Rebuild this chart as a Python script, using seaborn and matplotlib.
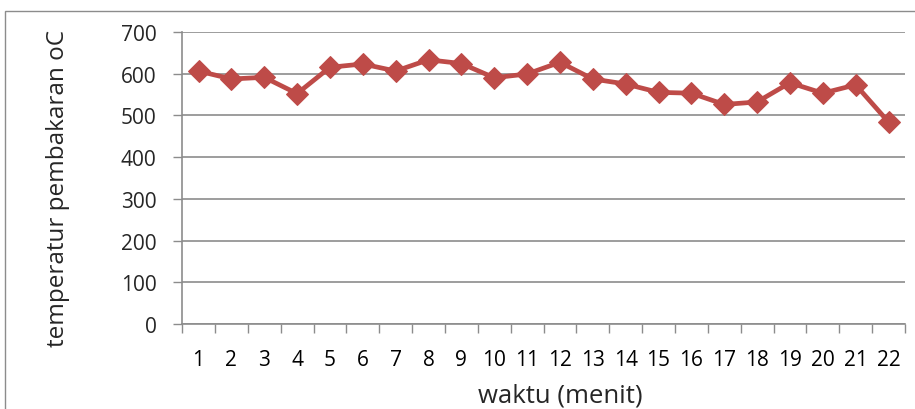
import matplotlib
matplotlib.use('Agg')
import matplotlib.pyplot as plt
import seaborn as sns
import pandas as pd
from matplotlib.patches import Rectangle

sns.set_theme(style='white')
plt.rcParams['font.family'] = ['Open Sans', 'DejaVu Sans']

# data
menit = list(range(1, 23))
suhu = [606, 587, 591, 552, 615, 623, 606, 633, 624, 590, 599, 627,
        587, 575, 555, 553, 526, 532, 578, 553, 573, 484]

df = pd.DataFrame({'waktu': menit, 'suhu': suhu})

fig = plt.figure(figsize=(9.15, 4.1), dpi=100)
ax = fig.add_axes([0.199, 0.207, 0.790, 0.713])

# chart border
fig.patches.append(Rectangle((0.006, -0.05), 1.05, 1.02, transform=fig.transFigure,
                             fill=False, edgecolor='#8c8c8c', linewidth=1.0))

sns.lineplot(data=df, x='waktu', y='suhu', ax=ax, color='#BE4B48', linewidth=3.4,
             marker='D', markersize=11, markeredgecolor='#BE4B48')

ax.set_xlim(0.5, 22.5)
ax.set_ylim(0, 700)
ax.set_yticks(range(0, 701, 100))
ax.yaxis.grid(True, color='#8c8c8c', linewidth=1.2)
ax.set_xticks(menit)
ax.set_xticklabels([str(m) for m in menit])
ax.set_xticks([m + 0.5 for m in range(0, 23)], minor=True)
ax.tick_params(axis='x', which='major', length=0, pad=18, labelsize=15, colors='black')
ax.tick_params(axis='x', which='minor', length=6.5, width=1, color='#8c8c8c', direction='out', bottom=True)
ax.tick_params(axis='y', length=6.5, width=1, color='#8c8c8c', direction='out', left=True,
               labelsize=15, pad=12)

for s in ['top', 'right']:
    ax.spines[s].set_visible(False)
for s in ['left', 'bottom']:
    ax.spines[s].set_color('#8c8c8c')
    ax.spines[s].set_linewidth(1.2)

ax.set_xlabel('waktu (menit)', fontsize=18.5)
ax.set_ylabel('temperatur pembakaran oC', fontsize=17.5)
ax.xaxis.set_label_coords(0.523, -0.198)
ax.yaxis.set_label_coords(-0.155, 0.466)

fig.savefig('out.png', dpi=100)
